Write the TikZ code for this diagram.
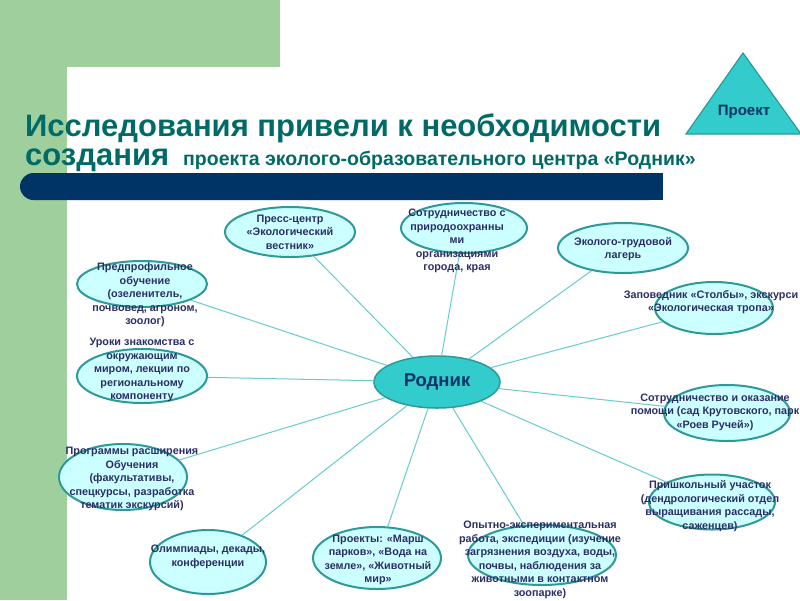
\documentclass[tikz,border=0pt]{standalone}
\usepackage{fontspec}
\setmainfont{Liberation Sans}
\usetikzlibrary{shapes.geometric}
\definecolor{bggreen}{HTML}{9FCF9C}
\definecolor{navy}{HTML}{003366}
\definecolor{titleteal}{HTML}{006B66}
\definecolor{turq}{HTML}{33CCCC}
\definecolor{turqdark}{HTML}{2E9999}
\definecolor{lightcyan}{HTML}{CCFFFF}
\definecolor{linec}{HTML}{66CCCC}
\definecolor{txt}{HTML}{2A2F66}
\begin{document}
\begin{tikzpicture}[x=1pt,y=-1pt,
 bub/.style={ellipse, draw=turqdark, line width=2pt, fill=lightcyan, inner sep=0pt},
 lbl/.style={align=center, text=txt, font=\fontsize{10.8}{13.5}\selectfont\bfseries, inner sep=0pt},
 conn/.style={draw=linec, line width=1pt}]
\useasboundingbox (0,0) rectangle (800,600);
% background
\fill[bggreen] (0,0) rectangle (280,67);
\fill[bggreen] (0,0) rectangle (67,600);
\fill[white, rounded corners=22] (67,67) rectangle (900,700);
\fill[navy, rounded corners=13.5] (20,173) rectangle (663,200);
\fill[navy] (640,173) rectangle (663,200);
% title
\node[anchor=base west, align=left, text=titleteal, font=\fontsize{31}{29}\selectfont\bfseries, inner sep=0pt] (t1) at (25,165) {Исследования привели к необходимости\\создания {\fontsize{19.5}{22}\selectfont\ проекта эколого-образовательного центра «Родник»}};
% triangle
\filldraw[fill=turq, draw=turqdark, line width=1.2pt] (743,53) -- (686,134) -- (801,134) -- cycle;
\node[font=\fontsize{15}{18}\selectfont\bfseries, text=navy] (pr) at (744,112) {Проект};
% center
\node[ellipse, draw=turqdark, line width=1.5pt, fill=turq, minimum width=126pt, minimum height=52pt, inner sep=0pt, font=\fontsize{18.5}{20}\selectfont\bfseries, text=navy] (c) at (437,382) {Родник};
% ellipses
\node[bub, minimum width=130pt, minimum height=50pt] (e1) at (290,232) {};
\node[bub, minimum width=126pt, minimum height=50pt] (e2) at (464,228) {};
\node[bub, minimum width=130pt, minimum height=50pt] (e3) at (623,248) {};
\node[bub, minimum width=118pt, minimum height=52pt] (e4) at (714,308) {};
\node[bub, minimum width=126pt, minimum height=56pt] (e5) at (727,413) {};
\node[bub, minimum width=126pt, minimum height=55pt] (e6) at (712,502) {};
\node[bub, minimum width=148pt, minimum height=60pt] (e7) at (542,555) {};
\node[bub, minimum width=128pt, minimum height=62pt] (e8) at (377,558) {};
\node[bub, minimum width=116pt, minimum height=64pt] (e9) at (208,562) {};
\node[bub, minimum width=128pt, minimum height=66pt] (e10) at (123,477) {};
\node[bub, minimum width=130pt, minimum height=54pt] (e11) at (142,376) {};
\node[bub, minimum width=130pt, minimum height=46pt] (e12) at (142,284) {};
% connectors
\foreach \n in {e1,e2,e3,e4,e5,e6,e7,e8,e9,e10,e11,e12} \draw[conn] (c) -- (\n);
% labels
\node[lbl] (l1) at (290,232) {Пресс-центр\\«Экологический\\вестник»};
\node[lbl] (l2) at (457,241) {Сотрудничество с\\природоохранны\\ми\\организациями\\города, края};
\node[lbl] (l3) at (623,249) {Эколого-трудовой\\лагерь};
\node[lbl] (l4) at (711,302) {Заповедник «Столбы», экскурси\\«Экологическая тропа»};
\node[lbl] (l5) at (715,412) {Сотрудничество и оказание\\помощи (сад Крутовского, парк\\«Роев Ручей»)};
\node[lbl] (l6) at (710,506) {Пришкольный участок\\(дендрологический отдел\\выращивания рассады,\\саженцев)};
\node[lbl] (l7) at (540,560) {Опытно-экспериментальная\\работа, экспедиции (изучение\\загрязнения воздуха, воды,\\почвы, наблюдения за\\животными в контактном\\зоопарке)};
\node[lbl] (l8) at (378,560) {Проекты: «Марш\\парков», «Вода на\\земле», «Животный\\мир»};
\node[lbl] (l9) at (208,557) {Олимпиады, декады,\\конференции};
\node[lbl] (l10) at (132,479) {Программы расширения\\Обучения\\(факультативы,\\спецкурсы, разработка\\тематик экскурсий)};
\node[lbl] (l11) at (142,370) {Уроки знакомства с\\окружающим\\миром, лекции по\\региональному\\компоненту};
\node[lbl] (l12) at (145,295) {Предпрофильное\\обучение\\(озеленитель,\\почвовед, агроном,\\зоолог)};
\end{tikzpicture}
\end{document}
